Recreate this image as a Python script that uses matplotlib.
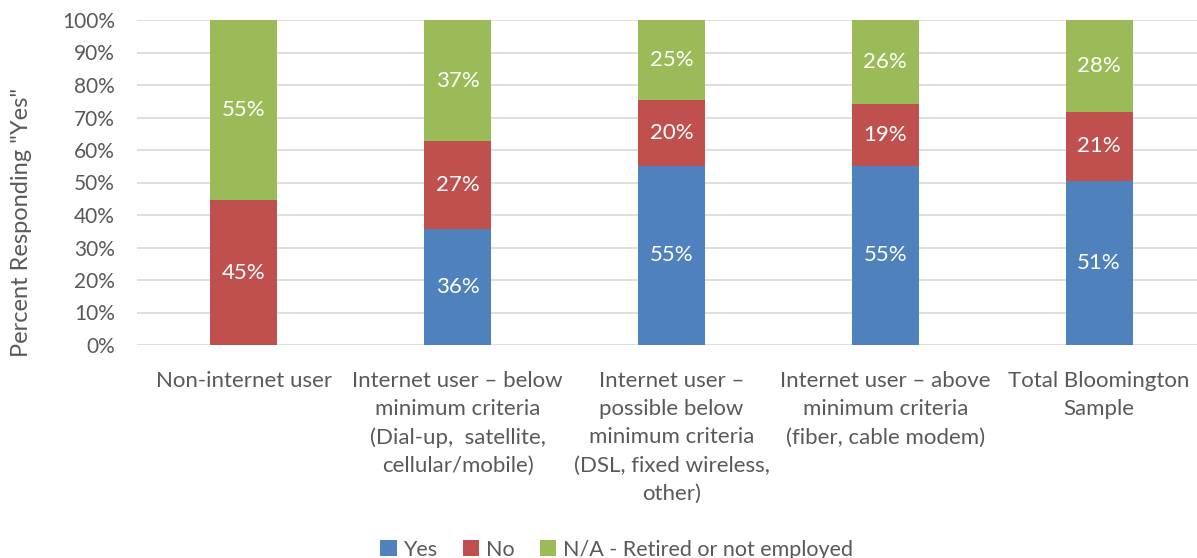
import numpy as np
import matplotlib.pyplot as plt

plt.rcParams['font.family'] = ['Lato', 'DejaVu Sans']

categories = ['Non-internet user',
              'Internet user \u2013 below\nminimum criteria\n(Dial-up,  satellite,\ncellular/mobile)',
              'Internet user \u2013\npossible below\nminimum criteria\n(DSL, fixed wireless,\nother)',
              'Internet user \u2013 above\nminimum criteria\n(fiber, cable modem)',
              'Total Bloomington\nSample']
yes = [0, 35.8, 55.2, 55.1, 50.6]
no = [44.6, 26.9, 20.1, 19.1, 21.2]
na = [55.4, 37.3, 24.7, 25.8, 28.2]
series_names = ['Yes', 'No', 'N/A - Retired or not employed']
colors = ['#4F81BD', '#C0504D', '#9BBB59']

fig = plt.figure(figsize=(11.97, 5.58), dpi=100)
ax = fig.add_axes([137/1197, 1 - 345/558, 1 - 137/1197, 325/558])

x = np.arange(len(categories))
bottom = np.zeros(len(categories))
for vals, name, c in zip([yes, no, na], series_names, colors):
    vals = np.array(vals)
    ax.bar(x, vals, 0.313, bottom=bottom, color=c, label=name, zorder=2)
    for xi, b, v in zip(x, bottom, vals):
        if v > 0:
            ax.text(xi, b + v / 2, '%d%%' % round(v), ha='center', va='center',
                    color='white', fontsize=16)
    bottom += vals

ax.set_ylim(0, 100)
ax.set_xlim(-0.5, 4.5 - 9/214)
ax.set_yticks(np.arange(0, 101, 10))
ax.set_yticklabels(['%d%%' % v for v in range(0, 101, 10)])
ax.set_xticks(x)
ax.set_xticklabels(categories, fontsize=16, color='#595959', linespacing=1.5, va='top')
ax.tick_params(axis='y', labelsize=15, colors='#595959', length=0, pad=16)
ax.tick_params(axis='x', length=0, pad=19)
ax.grid(axis='y', color='#D9D9D9', linewidth=1.2, zorder=0)
for s in ax.spines.values():
    s.set_visible(False)
ax.set_ylabel('Percent Responding "Yes"', fontsize=17, color='#595959', labelpad=18)
ax.yaxis.set_label_coords(-105/1060, (345 - 222) / 325)

fig.legend(loc='lower center', bbox_to_anchor=(0.5 + 18/1197, -0.038), ncol=3, frameon=False,
           fontsize=15.5, labelcolor='#595959', handlelength=0.75, handleheight=0.75,
           handletextpad=0.3, columnspacing=1.2)

fig.savefig('out.png', dpi=100)
